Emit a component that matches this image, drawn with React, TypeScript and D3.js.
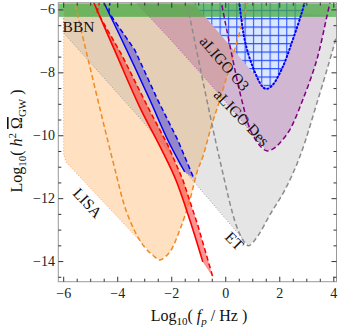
import React from "react";
import * as d3 from "d3";

const W = 341;
const H = 328;
const font = "'Liberation Serif', 'DejaVu Serif', serif";

// axes (log10 f_p / Hz, log10 h^2 Omega_GW)
const xDomain = [-6.2, 4.1];
const yDomain = [-14.64, -5.77];
const xMajor = [-6, -4, -2, 0, 2, 4];
const yMajor = [-14, -12, -10, -8, -6];

// LISA sensitivity curve (dashed) and lower-left edge of its region
const lisaX = [-5.64, -4.19, -3.63, -3.07, -2.63, -2.44, -2.07, -1.7, -1.33, -1.04, -0.85, -0.52, -0.22, 0.33, 0.87];
const lisaY = [-5.6, -10.77, -12.52, -13.47, -13.85, -13.95, -13.69, -12.99, -12.04, -11.09, -10.67, -9.66, -8.86, -7.27, -5.6];
const lisaMin = 5;
const lisaEdgeX = [-6.0, -6.0, -5.9, -2.6];
const lisaEdgeY = [-5.6, -10.6, -10.85, -13.87];

// ET
const etX = [-1.48, -0.22, 0.41, 0.7, 0.85, 1.19, 1.63, 2.19, 2.74, 3.41, 3.96, 4.3];
const etY = [-5.6, -10.77, -12.9, -13.4, -13.5, -13.18, -12.52, -11.72, -10.67, -8.86, -7.27, -6.2];
const etMin = 4;
const etEdgeX = [-6.0, -6.0, -3.19, -1.33, 0.85];
const etEdgeY = [-5.6, -6.73, -9.43, -11.31, -13.5];

// aLIGO design
const desX = [-0.2, 0.59, 0.96, 1.3, 1.52, 1.75, 2.0, 2.37, 2.85, 3.37, 3.74, 3.9];
const desY = [-5.6, -8.86, -9.91, -10.35, -10.48, -10.42, -10.23, -9.81, -8.86, -7.59, -6.22, -5.6];
const desMin = 4;
const desEdgeX = [-3.5, -2.07, -0.22, 1.52];
const desEdgeY = [-5.6, -6.92, -8.7, -10.48];

// aLIGO O3
const o3X = [0.48, 0.7, 1.0, 1.37, 1.52, 1.74, 2.11, 2.48, 2.81, 2.97];
const o3Y = [-5.6, -6.95, -7.81, -8.45, -8.51, -8.38, -7.81, -6.95, -6.1, -5.6];
const o3Min = 4;
const o3EdgeX = [-1.37, 1.52];
const o3EdgeY = [-5.6, -8.51];

// model predictions
const redSolidX = [-4.92, -4.04, -3.19, -2.37, -1.85, -1.33, -0.85];
const redSolidY = [-5.7, -7.43, -9.08, -10.45, -11.4, -12.68, -14.01];
const redDashX = [-4.66, -4.76, -3.85, -2.89, -2.15, -1.59, -1.04, -0.48];
const redDashY = [-5.7, -6.06, -7.43, -9.08, -10.29, -11.4, -12.83, -14.49];
const blueSolidX = [-4.55, -3.67, -2.81, -2.15, -1.52];
const blueSolidY = [-5.7, -7.27, -8.86, -10.13, -11.15];
const blueDashX = [-4.28, -4.33, -3.37, -2.52, -1.78, -1.19];
const blueDashY = [-5.7, -6.08, -7.27, -8.86, -10.13, -11.34];

// BBN bound
const bbnY = [-5.8, -6.22];

const labels = [
  { text: "BBN", x: -6.04, y: -6.7, angle: 0, anchor: "start" },
  { text: "LISA", x: -5.11, y: -12.13, angle: 47, anchor: "middle" },
  { text: "aLIGO O3", x: -0.04, y: -7.7, angle: 49, anchor: "middle" },
  { text: "aLIGO Des", x: 0.59, y: -9.42, angle: 46, anchor: "middle" },
  { text: "ET", x: 0.33, y: -13.34, angle: 45, anchor: "middle" },
];

const zip = (xs: number[], ys: number[]): [number, number][] => xs.map((v, i) => [v, ys[i]]);

export default function App() {
  const left = 58.3, right = 336.5, top = 2.7, bottom = 281.7;
  const x = d3.scaleLinear().domain(xDomain).range([left, right]);
  const y = d3.scaleLinear().domain(yDomain).range([bottom, top]);

  const smooth = d3.line<[number, number]>().x(d => x(d[0])).y(d => y(d[1])).curve(d3.curveCatmullRom.alpha(0.5));
  const straight = d3.line<[number, number]>().x(d => x(d[0])).y(d => y(d[1]));

  const lisa = zip(lisaX, lisaY);
  const et = zip(etX, etY);
  const des = zip(desX, desY);
  const o3 = zip(o3X, o3Y);

  // region = straight lower-left edge + right arm of the sensitivity curve
  const region = (edge: [number, number][], curve: [number, number][], iMin: number) =>
    straight(edge)! + smooth(curve.slice(iMin))!.replace("M", "L") + "Z";

  const lisaRegion = region(zip(lisaEdgeX, lisaEdgeY), lisa, lisaMin);
  const etRegion = region(zip(etEdgeX, etEdgeY), et, etMin);
  const desRegion = region(zip(desEdgeX, desEdgeY), des, desMin);
  const o3Region = region(zip(o3EdgeX, o3EdgeY), o3, o3Min);

  const redS = zip(redSolidX, redSolidY);
  const redD = zip(redDashX, redDashY);
  const blueS = zip(blueSolidX, blueSolidY);
  const blueD = zip(blueDashX, blueDashY);
  const band = (s: [number, number][], dsh: [number, number][]) =>
    straight([...s, ...dsh.slice(1).reverse()])! + "Z";

  const xMinor = d3.range(-6, 4.01, 0.5);
  const yMinor = d3.range(-14.5, -5.99, 0.5);
  const isMajor = (v: number, arr: number[]) => arr.some(a => Math.abs(a - v) < 1e-6);
  const fmt = (v: number) => (v < 0 ? "\u2212" + Math.abs(v) : String(v));

  return (
    <svg width={W} height={H} style={{ position: "absolute", left: 0, top: 0, background: "#fff" }} fontFamily={font}>
      <defs>
        <clipPath id="plot">
          <rect x={left} y={top} width={right - left} height={bottom - top} />
        </clipPath>
        <pattern id="hatch" patternUnits="userSpaceOnUse" width={8.33} height={8.33} x={3} y={1.5}>
          <rect width={8.33} height={8.33} fill="#dae8ff" />
          <path d="M0.6,0V8.33M0,0.6H8.33" stroke="#2446ff" strokeWidth={1} />
        </pattern>
      </defs>

      <g clipPath="url(#plot)">
        <path d={lisaRegion} fill="#ff9933" fillOpacity={0.3} />
        <path d={etRegion} fill="#999999" fillOpacity={0.25} />
        <path d={desRegion} fill="#800080" fillOpacity={0.2} />
        <path d={o3Region} fill="url(#hatch)" />
        <path d={band(redS, redD)} fill="#ff0000" fillOpacity={0.42} />
        <path d={band(blueS, blueD)} fill="#3030e0" fillOpacity={0.45} />

        <rect x={x(xDomain[0])} y={y(bbnY[0])} width={x(xDomain[1]) - x(xDomain[0])} height={y(bbnY[1]) - y(bbnY[0])}
          fill="#40aa3c" fillOpacity={0.72} />

        {/* region edges */}
        <path d={straight(zip(lisaEdgeX, lisaEdgeY))!} fill="none" stroke="#f6a862" strokeWidth={1} strokeDasharray="1,2" />
        <path d={straight(zip(etEdgeX, etEdgeY))!} fill="none" stroke="#9a9a9a" strokeWidth={1} strokeDasharray="1,2" />
        <path d={straight(zip(desEdgeX, desEdgeY))!} fill="none" stroke="#a860a8" strokeWidth={1} strokeDasharray="1,2" />

        {/* sensitivity curves */}
        <path d={smooth(lisa)!} fill="none" stroke="#f28a1e" strokeWidth={1.5} strokeDasharray="5,3" />
        <path d={smooth(et)!} fill="none" stroke="#8c8c8c" strokeWidth={1.5} strokeDasharray="5,3" />
        <path d={smooth(des)!} fill="none" stroke="#800080" strokeWidth={1.5} strokeDasharray="5,3" />
        <path d={smooth(o3)!} fill="none" stroke="#0000ff" strokeWidth={2} strokeDasharray="1.2,2.6" strokeLinecap="round" />

        <path d={smooth(redS)!} fill="none" stroke="#ff0000" strokeWidth={1.6} />
        <path d={straight(redD)!} fill="none" stroke="#ff0000" strokeWidth={1.5} strokeDasharray="5,3" />
        <path d={smooth(blueS)!} fill="none" stroke="#0000ff" strokeWidth={1.4} />
        <path d={straight(blueD)!} fill="none" stroke="#0000ff" strokeWidth={1.5} strokeDasharray="5,3" />
      </g>

      {labels.map((l, i) => (
        <text key={i} transform={`translate(${x(l.x)},${y(l.y)}) rotate(${l.angle})`} fontSize={15.5}
          textAnchor={l.anchor} dominantBaseline={l.angle ? "central" : "auto"} fill="#111">
          {l.text}
        </text>
      ))}

      {/* frame */}
      <rect x={left} y={top} width={right - left} height={bottom - top} fill="none" stroke="#999" strokeWidth={1} />
      {xMinor.map((v, i) => {
        const len = isMajor(v, xMajor) ? 5 : 3;
        return (
          <g key={"x" + i} stroke="#333" strokeWidth={1}>
            <line x1={x(v)} x2={x(v)} y1={bottom} y2={bottom - len} />
            <line x1={x(v)} x2={x(v)} y1={top} y2={top + len} />
          </g>
        );
      })}
      {yMinor.map((v, i) => {
        const len = isMajor(v, yMajor) ? 5 : 3;
        return (
          <g key={"y" + i} stroke="#333" strokeWidth={1}>
            <line x1={left} x2={left + len} y1={y(v)} y2={y(v)} />
            <line x1={right} x2={right - len} y1={y(v)} y2={y(v)} />
          </g>
        );
      })}
      {xMajor.map(v => (
        <text key={"xl" + v} x={x(v)} y={298} fontSize={14} textAnchor="middle" fill="#222">{fmt(v)}</text>
      ))}
      {yMajor.map(v => (
        <text key={"yl" + v} x={55} y={y(v)} fontSize={14} textAnchor="end" dominantBaseline="central" fill="#222">{fmt(v)}</text>
      ))}

      <text x={199} y={321} fontSize={16} textAnchor="middle" fill="#111" style={{ whiteSpace: "pre" }}>
        Log<tspan fontSize={11} dy={4}>10</tspan>
        <tspan dy={-4}>( </tspan>
        <tspan fontStyle="italic">f</tspan>
        <tspan fontStyle="italic" fontSize={11} dy={4}>p</tspan>
        <tspan dy={-4}> / Hz )</tspan>
      </text>
      <text transform="translate(22,141) rotate(-90)" fontSize={16} textAnchor="middle" fill="#111" style={{ whiteSpace: "pre" }}>
        Log<tspan fontSize={11} dy={4}>10</tspan>
        <tspan dy={-4}>( </tspan>
        <tspan fontStyle="italic">h</tspan>
        <tspan fontSize={11} dy={-6}>2</tspan>
        <tspan dy={6}> </tspan>
        <tspan style={{ textDecoration: "overline" }}>{"\u03A9"}</tspan>
        <tspan fontSize={11} dy={4}>GW</tspan>
        <tspan dy={-4}> )</tspan>
      </text>
    </svg>
  );
}
